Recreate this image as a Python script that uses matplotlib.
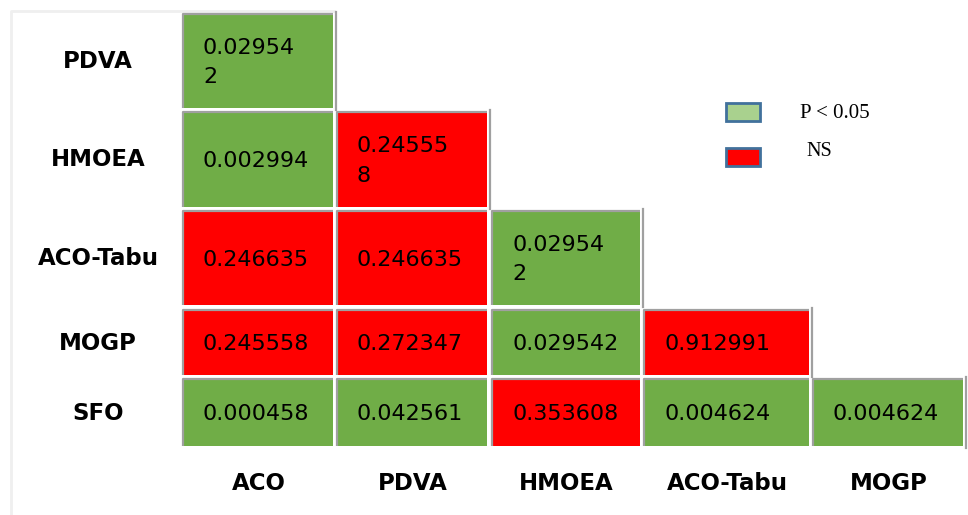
import numpy as np
import matplotlib.pyplot as plt
from matplotlib.patches import Rectangle

# p-values of pairwise comparisons (lower triangle)
rows = ['PDVA', 'HMOEA', 'ACO-Tabu', 'MOGP', 'SFO']
cols = ['ACO', 'PDVA', 'HMOEA', 'ACO-Tabu', 'MOGP']
p_pdva = [0.029542]
p_hmoea = [0.002994, 0.245558]
p_acotabu = [0.246635, 0.246635, 0.029542]
p_mogp = [0.245558, 0.272347, 0.029542, 0.912991]
p_sfo = [0.000458, 0.042561, 0.353608, 0.004624, 0.004624]
pvals = [p_pdva, p_hmoea, p_acotabu, p_mogp, p_sfo]
# cells whose text wraps onto a second line
wrapped = [(0, 0), (1, 1), (2, 2)]
alpha = 0.05

# layout in pixels
col_l = [184, 338, 493, 645, 814]
col_r = [333, 487, 640, 809, 963]
row_t = [15, 113, 212, 311, 380]
row_b = [108, 207, 305, 375, 446]

green = '#70AD47'
red = '#FF0000'
edge = '#A0A0A0'

fig = plt.figure(figsize=(9.68, 5.15), dpi=100)
ax = fig.add_axes([0, 0, 1, 1])
ax.set_xlim(0, 968)
ax.set_ylim(515, 0)
ax.axis('off')

# faint outer frame
ax.plot([11, 11, 334], [515, 11, 11], color='#EFEFEF', lw=2)

for i, row in enumerate(pvals):
    for j, p in enumerate(row):
        x0, x1 = col_l[j], col_r[j]
        y0, y1 = row_t[i], row_b[i]
        ax.add_patch(Rectangle((x0, y0), x1 - x0, y1 - y0,
                               facecolor=green if p < alpha else red,
                               edgecolor='none'))
        # top and left borders
        ax.plot([x0 - 1, x0 - 1, x1], [y1, y0 - 1, y0 - 1], color=edge, lw=1.6,
                solid_capstyle='butt')
        s = f'{p:.6f}'
        if (i, j) in wrapped:
            s = s[:7] + '\n' + s[7:]
        ax.text(x0 + 19, (y0 + y1) / 2 + 1, s, fontsize=16, ha='left', va='center',
                linespacing=1.6, color='black', family='DejaVu Sans')
    # right border after last cell of the row
    xr = col_r[len(row) - 1] + 3
    ax.plot([xr, xr], [row_t[i] - 3, row_b[i] + 2], color=edge, lw=1.6)
    ax.text(98, (row_t[i] + row_b[i]) / 2, rows[i], fontsize=16.5, fontweight='bold',
            ha='center', va='center', family='DejaVu Sans')

for j, c in enumerate(cols):
    ax.text((col_l[j] + col_r[j]) / 2, 484, c, fontsize=16.5, fontweight='bold',
            ha='center', va='center', family='DejaVu Sans')

# legend
ax.add_patch(Rectangle((726, 103), 34, 18, facecolor='#A9D18E',
                       edgecolor='#41719C', lw=2))
ax.add_patch(Rectangle((726, 148), 34, 18, facecolor=red,
                       edgecolor='#41719C', lw=2))
ax.text(800, 113, 'P < 0.05', fontsize=15, family='Liberation Serif',
        ha='left', va='center')
ax.text(806, 151, 'NS', fontsize=14.5, family='Liberation Serif',
        ha='left', va='center')

fig.savefig('out.png', dpi=100)
